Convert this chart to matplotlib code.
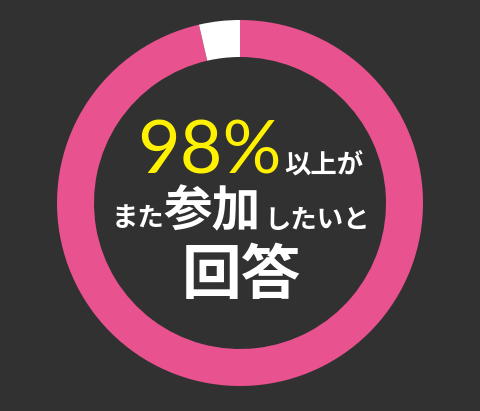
import matplotlib
matplotlib.use("Agg")
import matplotlib.pyplot as plt

# donut data (share answering "want to join again")
labels = ["98%以上", "その他"]
values = [96.4, 3.6]
colors = ["#e8528f", "#ffffff"]

# centre text
headline = "98%"
line1_tail = "以上が"
line2 = ["また", "参加", "したいと"]
line3 = "回答"

bg = "#313131"
W, H = 480, 411

fig = plt.figure(figsize=(W / 100, H / 100), dpi=100)
fig.patch.set_facecolor(bg)
ax = fig.add_axes([0, 0, 1, 1])
ax.set_facecolor(bg)

ax.pie(values, colors=colors, startangle=90, counterclock=False,
       center=(240, 208), radius=183,
       wedgeprops=dict(width=37, linewidth=0))

ax.set_xlim(0, W)
ax.set_ylim(0, H)
ax.set_aspect("equal")
ax.axis("off")

jp = ["Noto Sans CJK JP", "DejaVu Sans"]

ax.text(137, 237, headline, color="#fff100", fontsize=53, family="Lato",
        ha="left", va="baseline")
ax.text(324, 246, line1_tail, color="white", fontsize=19, family=jp,
        weight="bold", ha="center", va="center")

ax.text(138, 192, line2[0], color="white", fontsize=19, family=jp,
        weight="bold", ha="center", va="center")
ax.text(212, 199, line2[1], color="white", fontsize=35, family=jp,
        weight="bold", ha="center", va="center")
ax.text(317, 191, line2[2], color="white", fontsize=19, family=jp,
        weight="bold", ha="center", va="center")

ax.text(241, 134, line3, color="white", fontsize=43, family=jp,
        weight="bold", ha="center", va="center")

fig.savefig("out.png", dpi=100, facecolor=bg)
